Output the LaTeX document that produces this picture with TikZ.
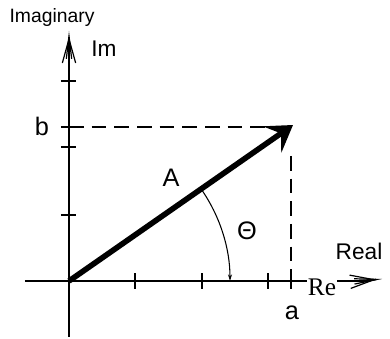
\documentclass[tikz,border=0pt]{standalone}
\usepackage{fontspec}
\setmainfont{Liberation Sans}
\newfontfamily\refont{Liberation Serif}
\usetikzlibrary{arrows.meta}
\tikzset{
	axis/.style     ={line width=1.3pt, -{Straight Barb[length=18pt,width=10pt,line width=0.9pt,sep=-17pt]Straight Barb[length=17pt,width=4pt,line width=0.9pt]}},
	tick/.style     ={line width=1pt},
	guide/.style    ={line width=1pt, dash pattern=on 11pt off 6pt},
	phasor/.style   ={line width=4.2pt, -{Stealth[length=19pt,width=24pt,inset=8pt]}},
	anglearc/.style ={line width=0.8pt, -{Stealth[length=5pt,width=3pt]}},
	lbl/.style      ={font=\fontsize{19}{21}\selectfont, inner sep=0pt},
}
\begin{document}
\begin{tikzpicture}[x=0.75pt,y=0.75pt]
	\useasboundingbox (-69,-58) rectangle (321,281);
	% points of the plane
	\coordinate (O) at (0,0);
	\coordinate (xlo) at (-44,0);
	\coordinate (xhi) at (313,2);
	\coordinate (ylo) at (0,-56);
	\coordinate (yhi) at (0,250);
	\coordinate (P) at (224,156);
	\coordinate (Pb) at (0,154);
	\coordinate (Pa) at (222,0);
	\coordinate (Pd) at (222,125);
	% axes
	\draw[axis] (ylo) -- (yhi);
	\draw[line width=1.3pt] (xlo) -- (O) -- (300,0);
	\draw[axis] (290,0) -- (xhi);
	% ticks
	\foreach \ty in {66,134,154,200}
		\draw[tick] (-8,\ty) -- (7,\ty);
	\foreach \tx in {66,133,199,222}
		\draw[tick] (\tx,-8) -- (\tx,8);
	% projections
	\draw[guide] (Pb) -- (210,154);
	\draw[guide] (Pd) -- (Pa);
	% phasor and angle
	\draw[phasor] (O) -- (P);
	\draw[anglearc] (35:161) arc[start angle=35, end angle=0, radius=161];
	% labels
	\node[lbl, font=\fontsize{14.5}{17}\selectfont] (imag) at (-17,263) {Imaginary};
	\node[lbl, font=\fontsize{17}{19}\selectfont] (im) at (35,232) {Im};
	\node[lbl] (lb) at (-27,155) {b};
	\node[lbl] (lA) at (102,103) {A};
	\node[lbl] (lth) at (178,50) {Θ};
	\node[lbl, font=\fontsize{17}{19}\selectfont] (real) at (290,30) {Real};
	\node[fill=white, inner sep=0.5pt, font=\fontsize{19}{21}\refont] (re) at (253,-6) {Re};
	\node[lbl] (la) at (223,-32) {a};
\end{tikzpicture}
\end{document}
